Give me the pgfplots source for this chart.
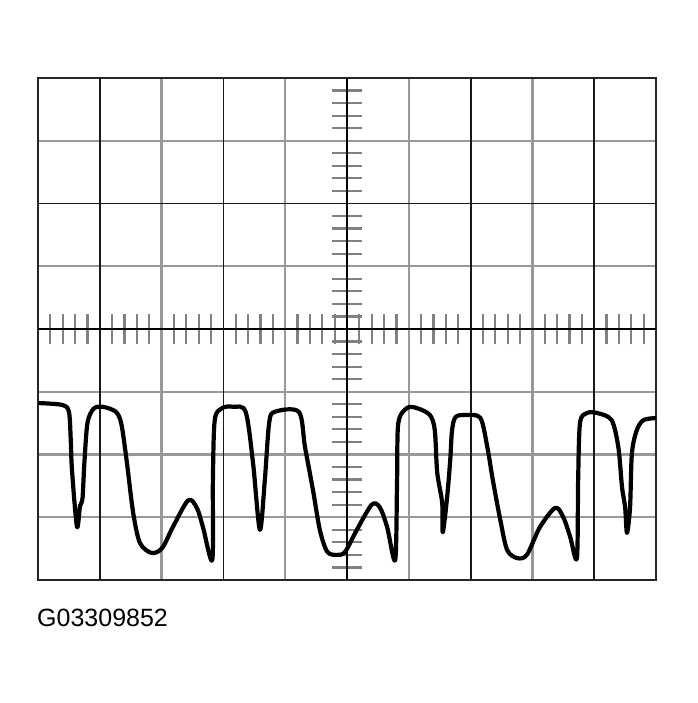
\documentclass[border=0pt]{standalone}
\usepackage{pgfplots}
\pgfplotsset{compat=1.18}
\usepackage{fontspec}
\setmainfont{Liberation Sans}
\begin{document}
\begin{tikzpicture}[x=1bp,y=1bp]
\path (-38,-123) rectangle (660,580);
\begin{axis}[
  at={(0,0)}, anchor=south west,
  scale only axis, width=618bp, height=502bp,
  xmin=0, xmax=10, ymin=-4, ymax=4,
  axis line style={black!85, line width=2.2bp},
  xtick={2,4,6,8}, ytick={-3,-2,-1,1,3},
  xticklabels={}, yticklabels={},
  extra x ticks={1,3,5,7,9}, extra y ticks={0,2},
  extra x tick labels={}, extra y tick labels={},
  major tick length=0pt,
  grid=major,
  major grid style={black!40, line width=2.4bp},
  extra tick style={grid=major, major grid style={black!90, line width=1.8bp}},
  clip=false,
]
% minor divisions on the centre cross
\pgfplotsinvokeforeach{1,2,3,4,6,7,8,9,11,12,13,14,16,17,18,19,21,22,23,24,26,27,28,29,31,32,33,34,36,37,38,39,41,42,43,44,46,47,48,49}{
  \draw[black!50, line width=2.2bp] (axis cs:{#1*0.2},-0.24) -- (axis cs:{#1*0.2},0.24);
}
\pgfplotsinvokeforeach{1,2,3,4,6,7,8,9,11,12,13,14,16,17,18,19,21,22,23,24,26,27,28,29,31,32,33,34,36,37,38,39}{
  \draw[black!50, line width=2.2bp] (axis cs:4.76,{#1*0.2-4}) -- (axis cs:5.24,{#1*0.2-4});
}
\draw[black, line width=1.4bp] (axis cs:0,0) -- (axis cs:10,0);
\draw[black, line width=1.4bp] (axis cs:5,-4) -- (axis cs:5,4);
% trace
\addplot[black, line width=4.2bp, line join=round, smooth, tension=0.5] coordinates {
 (0.00,-1.18) (0.39,-1.21) (0.50,-1.32) (0.53,-1.77) (0.55,-2.25) (0.63,-3.15)
 (0.68,-2.82) (0.72,-2.70) (0.75,-2.14) (0.80,-1.50) (0.90,-1.27) (1.05,-1.24)
 (1.26,-1.32) (1.35,-1.52) (1.44,-2.14) (1.54,-2.93) (1.65,-3.41) (1.84,-3.57)
 (2.01,-3.49) (2.18,-3.16) (2.43,-2.73) (2.57,-2.85) (2.67,-3.16) (2.82,-3.68)
 (2.83,-2.41) (2.86,-1.45) (2.98,-1.26) (3.16,-1.24) (3.36,-1.32) (3.48,-2.14)
 (3.59,-3.20) (3.67,-2.41) (3.74,-1.50) (3.83,-1.32) (4.22,-1.32) (4.32,-1.88)
 (4.45,-2.57) (4.56,-3.20) (4.68,-3.55) (4.84,-3.60) (4.97,-3.55) (5.16,-3.20)
 (5.40,-2.80) (5.53,-2.84) (5.65,-3.16) (5.78,-3.68) (5.81,-2.41) (5.83,-1.50)
 (5.97,-1.26) (6.13,-1.26) (6.34,-1.37) (6.42,-1.61) (6.46,-2.29) (6.54,-2.77)
 (6.55,-3.24) (6.62,-2.68) (6.67,-2.09) (6.70,-1.61) (6.76,-1.40) (6.94,-1.37)
 (7.16,-1.42) (7.27,-1.88) (7.36,-2.41) (7.48,-3.04) (7.59,-3.52) (7.75,-3.65)
 (7.91,-3.60) (8.12,-3.16) (8.37,-2.85) (8.50,-3.00) (8.61,-3.31) (8.72,-3.65)
 (8.74,-2.41) (8.77,-1.50) (8.88,-1.34) (9.05,-1.34) (9.28,-1.45) (9.39,-1.88)
 (9.45,-2.52) (9.50,-2.84) (9.53,-3.25) (9.58,-2.84) (9.61,-1.98) (9.69,-1.61)
 (9.80,-1.45) (10.0,-1.42)
};
\end{axis}
\node[anchor=base west, inner sep=0pt, font=\fontsize{25bp}{30bp}\selectfont] at (-1,-47) {G03309852};
\end{tikzpicture}
\end{document}
